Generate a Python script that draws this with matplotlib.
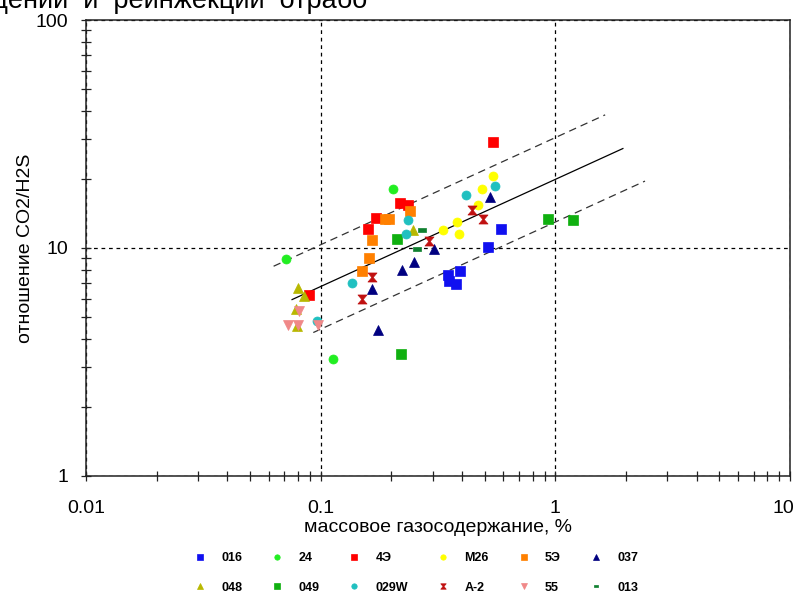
import numpy as np
import matplotlib
matplotlib.use('Agg')
import matplotlib.pyplot as plt
from matplotlib.path import Path
from matplotlib.transforms import ScaledTranslation
from matplotlib.ticker import FixedLocator, FixedFormatter, LogLocator, NullFormatter

plt.rcParams['font.family'] = ['Liberation Sans', 'DejaVu Sans']

# --- data ---
x_016 = [0.349, 0.352, 0.377, 0.392, 0.516, 0.587]
y_016 = [7.61, 7.17, 6.95, 7.93, 10.1, 12.1]

x_24 = [0.0711, 0.203, 0.1128]
y_24 = [8.95, 18.15, 3.26]

x_4e = [0.172, 0.159, 0.2177, 0.2355, 0.0891, 0.542]
y_4e = [13.5, 12.1, 15.75, 15.4, 6.22, 29.2]

x_m26 = [0.332, 0.381, 0.388, 0.468, 0.487, 0.542]
y_m26 = [12.0, 13.0, 11.5, 15.4, 18.15, 20.7]

x_5e = [0.188, 0.195, 0.240, 0.1655, 0.1606, 0.150]
y_5e = [13.4, 13.4, 14.5, 10.8, 9.04, 7.93]

x_037 = [0.526, 0.304, 0.2497, 0.222, 0.1655, 0.1754]
y_037 = [16.7, 9.9, 8.68, 8.01, 6.61, 4.37]

x_048 = [0.080, 0.0849, 0.0785, 0.0792, 0.2473]
y_048 = [6.68, 6.16, 5.40, 4.55, 12.0]

x_049 = [0.2114, 0.2198, 0.930, 1.189]
y_049 = [10.95, 3.43, 13.4, 13.3]

x_029w = [0.416, 0.553, 0.2355, 0.231, 0.136, 0.0964]
y_029w = [17.1, 18.7, 13.3, 11.5, 7.02, 4.78]

x_a2 = [0.441, 0.4915, 0.2893, 0.1655, 0.150]
y_a2 = [14.7, 13.4, 10.7, 7.46, 5.97]

x_55 = [0.0808, 0.0726, 0.0800, 0.0974]
y_55 = [5.29, 4.60, 4.60, 4.60]

x_013 = [0.270, 0.257]
y_013 = [12.0, 9.9]

# fitted trend y = a * x^b and its band
fit_b = 0.47
fit_a = 20.0
band_hi_a = 30.5
band_lo_a = 13.0
fit_range = (0.0755, 1.94)
hi_range = (0.063, 1.63)
lo_range = (0.093, 2.41)

title_fragment = 'дении  и  реинжекции  отрабо'

# --- figure ---
fig = plt.figure(figsize=(7.98, 5.94), dpi=100)
ax = fig.add_axes([0.1078, 0.1987, 0.8822, 0.7676])
ax.set_xscale('log')
ax.set_yscale('log')
ax.set_xlim(0.01, 10)
ax.set_ylim(1, 100)

hourglass = Path([(-1, 1), (1, 1), (0.15, 0), (1, -1), (-1, -1), (-0.15, 0), (-1, 1)],
                 [Path.MOVETO, Path.LINETO, Path.LINETO, Path.LINETO,
                  Path.LINETO, Path.LINETO, Path.CLOSEPOLY])
flat_rect = Path([(-1, -0.65), (1, -0.65), (1, 0.65), (-1, 0.65), (-1, -0.65)],
                 [Path.MOVETO, Path.LINETO, Path.LINETO, Path.LINETO, Path.CLOSEPOLY])

series = [
    ('016', x_016, y_016, 's', '#1010f0', 6.5),
    ('24', x_24, y_24, 'o', '#22ee22', 6.5),
    ('4Э', x_4e, y_4e, 's', '#ff0000', 6.5),
    ('M26', x_m26, y_m26, 'o', '#ffff00', 6.5),
    ('5Э', x_5e, y_5e, 's', '#ff8000', 6.5),
    ('037', x_037, y_037, '^', '#000080', 7),
    ('048', x_048, y_048, '^', '#b8b800', 7),
    ('049', x_049, y_049, 's', '#10b010', 6.5),
    ('029W', x_029w, y_029w, 'o', '#20c0c0', 6.5),
    ('A-2', x_a2, y_a2, hourglass, '#c01010', 6.5),
    ('55', x_55, y_55, 'v', '#f08888', 7),
    ('013', x_013, y_013, flat_rect, '#108030', 5.5),
]

handles = {}
for name, xs, ys, mk, col, ms in series:
    h, = ax.plot(xs, ys, ls='none', marker=mk, ms=ms, mfc=col, mec=col,
                 mew=0.5, label=name, zorder=3)
    handles[name] = h

def band(a, rng):
    xx = np.logspace(np.log10(rng[0]), np.log10(rng[1]), 50)
    return xx, a * xx ** fit_b

xx, yy = band(fit_a, fit_range)
ax.plot(xx, yy, color='black', lw=0.9, zorder=2)
xx, yy = band(band_hi_a, hi_range)
ax.plot(xx, yy, color='#333333', lw=0.9, ls=(0, (6, 4)), zorder=2)
xx, yy = band(band_lo_a, lo_range)
ax.plot(xx, yy, color='#333333', lw=0.9, ls=(0, (6, 4)), zorder=2)

# grid at inner decades
ax.grid(True, which='major', color='black', lw=0.9, ls=(0, (3, 3)))

ax.xaxis.set_major_locator(FixedLocator([0.01, 0.1, 1, 10]))
ax.xaxis.set_major_formatter(FixedFormatter(['0.01', '0.1', '1', '10']))
ax.yaxis.set_major_locator(FixedLocator([1, 10, 100]))
ax.yaxis.set_major_formatter(FixedFormatter(['1', '10', '100']))
for axis in (ax.xaxis, ax.yaxis):
    axis.set_minor_locator(LogLocator(base=10, subs=np.arange(2, 10)))
    axis.set_minor_formatter(NullFormatter())

ax.tick_params(which='both', direction='inout', length=7, width=0.9, color='#222222')
ax.tick_params(axis='x', which='major', labelsize=14, pad=14)
ax.tick_params(axis='y', which='major', labelsize=14, pad=9.5)
for sp in ax.spines.values():
    sp.set_linewidth(1.1)
    sp.set_color('#222222')

ax.set_xlabel('массовое газосодержание, %', fontsize=14, labelpad=1)
ax.set_ylabel('отношение CO2/H2S', fontsize=14, labelpad=1)

# pull the last x label in a little so it stays inside the picture
last = ax.xaxis.get_major_ticks()[-1].label1
last.set_transform(last.get_transform() + ScaledTranslation(-5 / 72, 0, fig.dpi_scale_trans))

fig.text(-0.01, 0.9865, title_fragment, fontsize=19.5, ha='left', va='baseline')

# legend: matplotlib fills columns first, so interleave the two rows
row1 = ['016', '24', '4Э', 'M26', '5Э', '037']
row2 = ['048', '049', '029W', 'A-2', '55', '013']
order = [n for pair in zip(row1, row2) for n in pair]
fig.legend([handles[n] for n in order], order, loc='center', ncol=6,
           bbox_to_anchor=(0.521, 0.0354), frameon=False, numpoints=1,
           prop={'weight': 'bold', 'size': 9}, markerscale=0.6,
           handlelength=1.0, handletextpad=1.2, columnspacing=2.3,
           labelspacing=1.4, borderpad=0)

fig.savefig('out.png', dpi=100, facecolor='white')
